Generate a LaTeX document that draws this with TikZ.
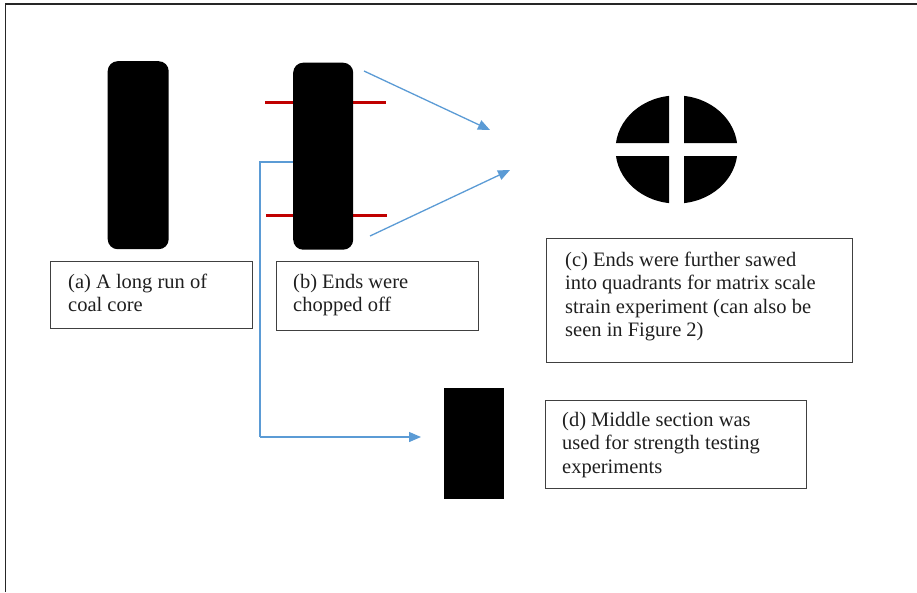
\documentclass[tikz,border=0pt]{standalone}
\usepackage{fontspec}
\setmainfont{Liberation Serif}
\newfontfamily\boxfont{Liberation Serif}
\usetikzlibrary{arrows.meta}
\definecolor{arrowblue}{HTML}{5B9BD5}
\definecolor{cutred}{HTML}{C00000}
\definecolor{boxgray}{HTML}{404040}
\tikzset{
  core/.style={fill=black, draw=none, rounded corners=10pt},
  labelbox/.style={draw=boxgray, line width=1.3pt, fill=none},
  txt/.style={anchor=north west, inner sep=0pt, align=left, text=black!88,
    font=\boxfont\fontsize{20.5}{23.5}\selectfont},
  flow/.style={draw=arrowblue, line width=1.3pt, -{Triangle[length=12pt,width=10pt]}},
  elbow/.style={draw=arrowblue, line width=1.3pt},
  cut/.style={draw=cutred, line width=3pt},
}
\begin{document}
\begin{tikzpicture}[x=1pt,y=-1pt]
\useasboundingbox (0,0) rectangle (917,592);
% outer frame
\draw[black!85, line width=1.8pt] (5.5,592) -- (5.5,4) -- (917,4);

% (a) core
\node[core, minimum width=61pt, minimum height=188pt, inner sep=0pt, anchor=north west] (corea) at (107.5,61) {};

% (b) cut lines and core
\coordinate (cutAL) at (265,102);
\coordinate (cutAR) at (386,102);
\coordinate (cutBL) at (266,215);
\coordinate (cutBR) at (387,215);
\draw[cut] (cutAL) -- (cutAR);
\draw[cut] (cutBL) -- (cutBR);
\node[core, minimum width=60pt, minimum height=187pt, inner sep=0pt, anchor=north west] (coreb) at (293,62.5) {};

% arrows to quadrants
\coordinate (a1s) at (364,71);
\coordinate (a1e) at (490,130);
\coordinate (a2s) at (370,236);
\coordinate (a2e) at (510,170);
\draw[flow] (a1s) -- (a1e);
\draw[flow] (a2s) -- (a2e);

% (c) quadrants
\coordinate (qc) at (676.5,149.5);
\begin{scope}
  \clip (600,80) rectangle (669,143)
        (684,80) rectangle (750,143)
        (600,156) rectangle (669,220)
        (684,156) rectangle (750,220);
  \fill[black] (qc) ellipse [x radius=61pt, y radius=54pt];
\end{scope}
\node[inner sep=0pt, minimum width=122pt, minimum height=108pt] (quad) at (qc) {};

% (d) middle section
\node[fill=black, draw=none, inner sep=0pt, minimum width=60pt, minimum height=111pt, anchor=north west] (mid) at (444,388) {};
\coordinate (elbowA) at (260,162);
\coordinate (elbowB) at (260,437);
\coordinate (midtip) at (421,437);
\draw[elbow] (coreb.west |- elbowA) -- (elbowA) -- (elbowB);
\draw[flow] (elbowB) -- (midtip);

% label boxes
\node[labelbox, inner sep=0pt, minimum width=202pt, minimum height=67pt, anchor=north west] (boxa) at (49.5,261) {};
\node[labelbox, inner sep=0pt, minimum width=202pt, minimum height=69pt, anchor=north west] (boxb) at (276,261) {};
\node[labelbox, inner sep=0pt, minimum width=306pt, minimum height=124pt, anchor=north west] (boxc) at (546,238) {};
\node[labelbox, inner sep=0pt, minimum width=261pt, minimum height=88pt, anchor=north west] (boxd) at (544.5,399.5) {};

% texts (north = first baseline - strut height)
\node[txt] (texta) at (68,271.5) {\strut(a) A long run of\\coal core};
\node[txt] (textb) at (293,271.5) {\strut(b) Ends were\\chopped off};
\node[txt] (textc) at (565,249.5) {\strut(c) Ends were further sawed\\into quadrants for matrix scale\\strain experiment (can also be\\seen in Figure 2)};
\node[txt] (textd) at (562,409.5) {\strut(d) Middle section was\\used for strength testing\\experiments};
\end{tikzpicture}
\end{document}
